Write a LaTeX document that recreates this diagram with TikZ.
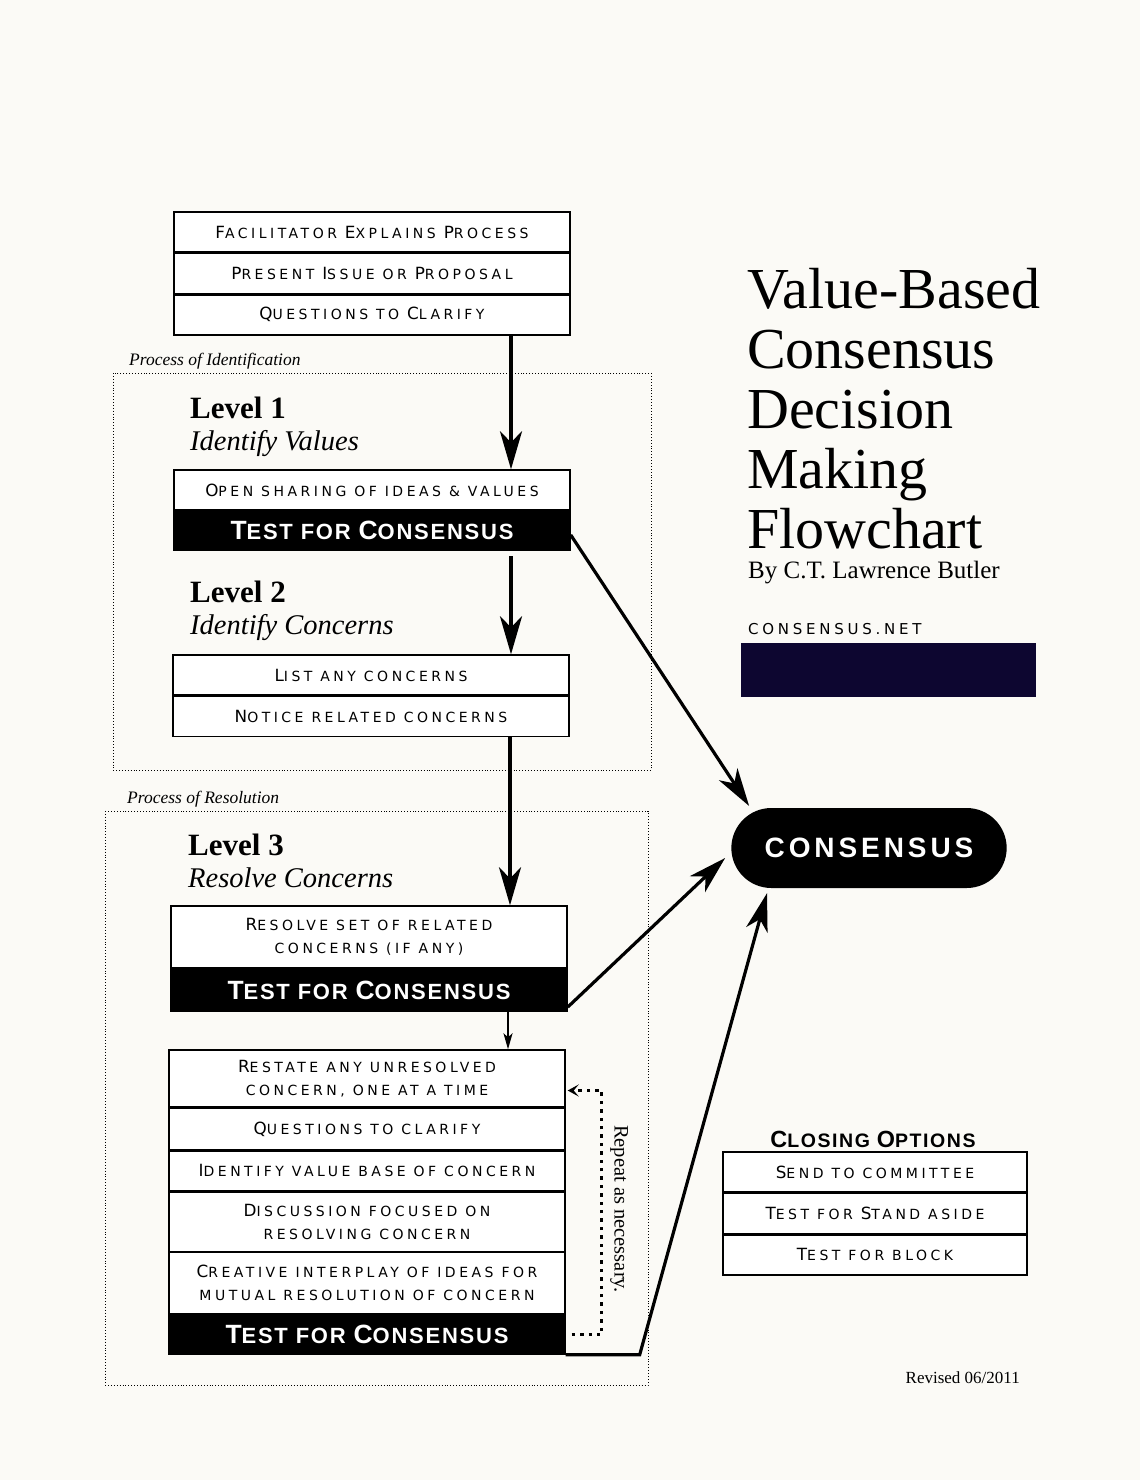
\documentclass[tikz,border=0pt]{standalone}
\usepackage{fontspec}
\usepackage{graphicx}
\usetikzlibrary{positioning, arrows.meta, shapes.misc}
\setmainfont{Liberation Serif}
\newfontfamily\capfont[LetterSpace=25]{DejaVu Sans}
\newfontfamily\capboldfont[LetterSpace=8]{Liberation Sans Bold}
\newfontfamily\pillfont[LetterSpace=14]{Liberation Sans Bold}
\definecolor{paper}{HTML}{FBFAF6}
\definecolor{redact}{HTML}{0D0630}
\newcommand\capl[1]{\scalebox{1.2}{#1}}
\tikzset{
    auto, node distance=0pt,% rows of a box sit right on top of each other
}

\begin{document}
\begin{tikzpicture}
    [x=1pt, y=-1pt,
    row/.style={draw, line width=1.4pt, fill=white, minimum width=396pt, minimum height=40pt,
        inner sep=0pt, align=center, font=\capfont\fontsize{14}{23}\selectfont},
    bar/.style={draw, line width=1.4pt, fill=black, text=white, minimum width=396pt, minimum height=39pt,
        inner sep=0pt, font=\capboldfont\fontsize{22}{24}\selectfont},
    option/.style={row, minimum width=304pt},
    zone/.style={draw, line width=0.9pt, dotted},
    zonelabel/.style={anchor=south west, inner sep=0pt, font=\itshape\fontsize{17.5}{20}\selectfont},
    level/.style={anchor=north west, inner sep=0pt, align=left, font=\fontsize{31}{32}\selectfont},
    flow/.style={line width=3.2pt, -{Stealth[length=38pt, width=22pt, inset=11pt]}},
    short/.style={line width=2pt, -{Stealth[length=16pt, width=9pt, inset=4pt]}},
    loopback/.style={line width=3.4pt, dash pattern=on 3.4pt off 5pt, -{Stealth[length=11pt, width=12pt, inset=5pt, line width=1.5pt]}}]

    \fill[paper] (0,0) rectangle (1140,1480);
    \useasboundingbox (0,0) rectangle (1140,1480);

    % opening steps
    \node[row] (f1) at (372,232) {\capl{F}ACILITATOR \capl{E}XPLAINS \capl{P}ROCESS};
    \node[row, below=of f1] (f2) {\capl{P}RESENT \capl{I}SSUE OR \capl{P}ROPOSAL};
    \node[row, below=of f2] (f3) {\capl{Q}UESTIONS TO \capl{C}LARIFY};

    % process of identification
    \draw[zone] (113,373) rectangle (651,770);
    \node[zonelabel] (idlabel) at (129,369) {Process of Identification};
    \node[level] (lv1) at (190,397) {\textbf{Level 1}\\{\itshape\fontsize{28.5}{32}\selectfont Identify Values}};
    \node[row] (o1) at (372,490) {\capl{O}PEN SHARING OF IDEAS \& VALUES};
    \node[bar, below=of o1] (t1) {\capl{T}EST FOR \capl{C}ONSENSUS};
    \node[level] (lv2) at (190,581) {\textbf{Level 2}\\{\itshape\fontsize{28.5}{32}\selectfont Identify Concerns}};
    \node[row] (c1) at (371,675) {\capl{L}IST ANY CONCERNS};
    \node[row, below=of c1] (c2) {\capl{N}OTICE RELATED CONCERNS};

    % process of resolution
    \draw[zone] (105,811) rectangle (648,1385);
    \node[zonelabel] (reslabel) at (127,807) {Process of Resolution};
    \node[level] (lv3) at (188,834) {\textbf{Level 3}\\{\itshape\fontsize{28.5}{32}\selectfont Resolve Concerns}};
    \node[row, minimum height=62pt] (r1) at (369,937) {\capl{R}ESOLVE SET OF RELATED\\CONCERNS (IF ANY)};
    \node[bar, minimum height=42pt, below=of r1] (t2) {\capl{T}EST FOR \capl{C}ONSENSUS};
    \node[row, minimum height=57pt] (u1) at (367,1078.5) {\capl{R}ESTATE ANY UNRESOLVED\\CONCERN, ONE AT A TIME};
    \node[row, minimum height=41pt, below=of u1] (u2) {\capl{Q}UESTIONS TO CLARIFY};
    \node[row, below=of u2] (u3) {\capl{I}DENTIFY VALUE BASE OF CONCERN};
    \node[row, minimum height=59pt, below=of u3] (u4) {\capl{D}ISCUSSION FOCUSED ON\\RESOLVING CONCERN};
    \node[row, minimum height=61pt, below=of u4] (u5) {\capl{C}REATIVE INTERPLAY OF IDEAS FOR\\MUTUAL RESOLUTION OF CONCERN};
    \node[bar, below=of u5] (t3) {\capl{T}EST FOR \capl{C}ONSENSUS};
    \node[rotate=-90, inner sep=0pt, font=\fontsize{20.5}{22}\selectfont] (rep) at (619,1209) {Repeat as necessary.};

    % title side
    \node[anchor=north west, inner sep=0pt, align=left, font=\fontsize{58}{60}\selectfont] (title) at (747,268)
        {Value-Based\\Consensus\\Decision\\Making\\Flowchart};
    \node[anchor=base west, inner sep=0pt, font=\fontsize{25}{28}\selectfont] (author) at (748,578) {By C.T. Lawrence Butler};
    \node[anchor=base west, inner sep=0pt, font=\capfont\fontsize{15}{18}\selectfont] (web) at (748,634) {CONSENSUS.NET};
    \node[fill=redact, draw=redact, minimum width=294pt, minimum height=53pt, inner sep=0pt] (redbox) at (888,669.5) {};
    \node[rounded rectangle, fill=black, text=white, minimum width=282pt, minimum height=80pt,
        font=\pillfont\fontsize{28}{30}\selectfont] (cons) at (869,848) {CONSENSUS};

    % closing options
    \node[inner sep=0pt, font=\capboldfont\fontsize{19.5}{20}\selectfont] (clhead) at (873,1139) {\capl{C}LOSING \capl{O}PTIONS};
    \node[option] (co1) at (875,1172) {\capl{S}END TO COMMITTEE};
    \node[option, below=of co1] (co2) {\capl{T}EST FOR \capl{S}TAND ASIDE};
    \node[option, below=of co2] (co3) {\capl{T}EST FOR BLOCK};
    \node[anchor=base east, inner sep=0pt, font=\fontsize{17}{19}\selectfont] (rev) at (1020,1383) {Revised 06/2011};

    % flow down the page
    \draw[flow] ([xshift=139pt]f3.south) -- ([xshift=139pt]f3.south |- o1.north);
    \draw[flow, shorten <=5pt] ([xshift=139pt]t1.south) -- ([xshift=139pt]t1.south |- c1.north);
    \draw[flow] ([xshift=139pt]c2.south) -- ([xshift=139pt]c2.south |- r1.north);
    \draw[short] ([xshift=139pt]t2.south) -- ([xshift=139pt]t2.south |- u1.north);

    % tests that reach consensus
    \draw[flow] ([yshift=-4pt]t1.east) -- ([shift={(18pt,42pt)}]cons.west);
    \draw[flow] ([yshift=5pt]t2.south east) -- ([shift={(-6pt,-10pt)}]cons.west);
    \draw[flow] (t3.south east) -- ([xshift=74pt]t3.south east)
        -- ([shift={(-102pt,-5pt)}]cons.south);

    % repeat loop
    \draw[loopback] ([xshift=6pt]t3.east) -- ++(30pt,0pt) |- ([shift={(2pt,-12pt)}]u1.east);
\end{tikzpicture}
\end{document}
